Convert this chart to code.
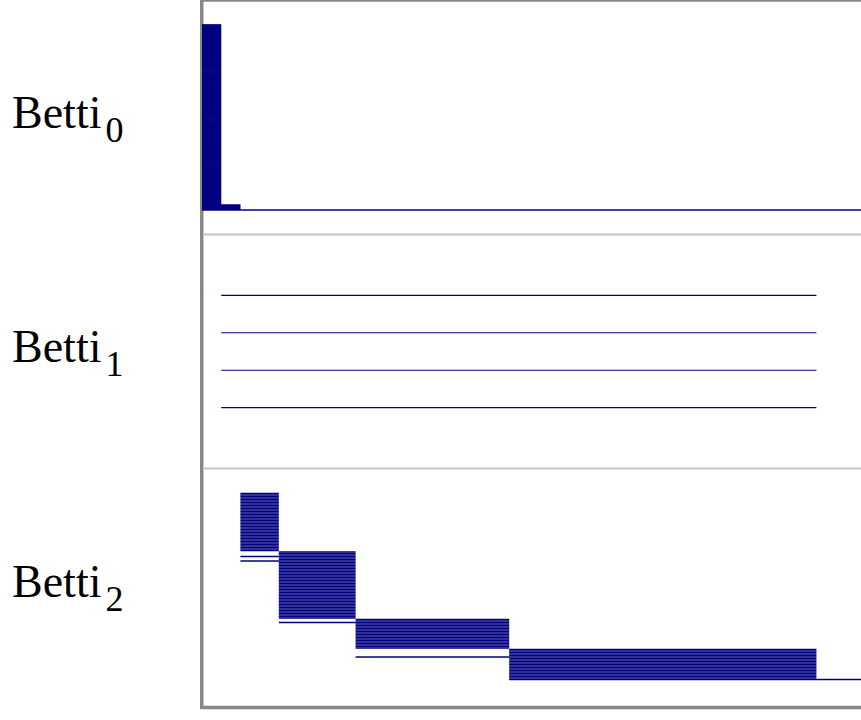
<!DOCTYPE html>
<html>
<head>
<meta charset="utf-8">
<script src="https://cdn.jsdelivr.net/npm/d3@7"></script>
<style>
  html, body { margin: 0; padding: 0; background: #fff; overflow: hidden; }
  svg { display: block; }
</style>
</head>
<body>
<svg id="chart"></svg>
<script>
// barcode rows, top to bottom: [birth, death, how many rows]
var betti0Runs = [
  [0, 1, 184],
  [0, 2, 5],
  [0, Infinity, 1]
];
var betti1Runs = [
  [1, 32, 4]
];
var betti2Runs = [
  [2, 4, 39],
  [4, 8, 3],
  [2, 8, 1],
  [4, 8, 2],
  [2, 8, 1],
  [4, 8, 38],
  [8, 16, 2],
  [4, 16, 1],
  [8, 16, 17],
  [16, 32, 5],
  [8, 32, 1],
  [16, 32, 14],
  [16, Infinity, 1]
];
var subscripts = ["0", "1", "2"];
var xDomain = [0, 35];

function expandRuns(runs) {
  var rows = [];
  runs.forEach(function (r) {
    for (var k = 0; k < r[2]; k++) {
      rows.push({birth: r[0], death: r[1]});
    }
  });
  return rows;
}

function drawBarcode() {
  const width = 861,
    height = 720,
    left = 202,
    panelTops = [0, 234, 468],
    panelBottoms = [234, 468, 704],
    pad = 23.5,
    barWidths = [1.7, 1.1, 1.35],
    barColor = "#000080";

  const panels = [betti0Runs, betti1Runs, betti2Runs].map(expandRuns);

  const svg = d3
    .select("#chart")
    .attr("width", width)
    .attr("height", height);

  const x = d3
    .scaleLinear()
    .domain(xDomain)
    .range([left, left + 19.2 * xDomain[1]]);

  // frame
  svg
    .append("rect")
    .attr("x", 201.75)
    .attr("y", 0)
    .attr("width", 1000)
    .attr("height", 707.5)
    .style("fill", "none")
    .style("stroke", "#888888")
    .style("stroke-width", 3.5);

  // panel separators
  svg
    .selectAll(".sep")
    .data(panelTops.slice(1))
    .enter()
    .append("line")
    .attr("class", "sep")
    .attr("x1", 204)
    .attr("x2", width)
    .attr("y1", (d) => d + 0.5)
    .attr("y2", (d) => d + 0.5)
    .style("stroke", "#c4c4c4")
    .style("stroke-width", 2);

  panels.forEach(function (rows, p) {
    const y = d3
      .scalePoint()
      .domain(d3.range(rows.length))
      .range([panelTops[p] + pad, panelBottoms[p] - pad])
      .padding(1);

    svg
      .append("g")
      .attr("class", "bars")
      .selectAll("line")
      .data(rows)
      .enter()
      .append("line")
      .attr("x1", (d) => x(d.birth))
      .attr("x2", (d) => (d.death === Infinity ? x(xDomain[1]) : x(d.death)))
      .attr("y1", (d, i) => y(i) + 0.5)
      .attr("y2", (d, i) => y(i) + 0.5)
      .style("stroke", barColor)
      .style("stroke-width", barWidths[p]);

    const mid = (panelTops[p] + panelBottoms[p]) / 2;
    const label = svg
      .append("text")
      .attr("x", 12)
      .attr("y", mid + 11)
      .style("font-family", "'Liberation Serif', 'Times New Roman', serif")
      .style("font-size", "46px")
      .style("fill", "#000");
    label.append("tspan").text("Betti");
    label
      .append("tspan")
      .attr("dx", 4)
      .attr("dy", 13.5)
      .style("font-size", "36px")
      .text(subscripts[p]);
  });
}

drawBarcode();
</script>
</body>
</html>
